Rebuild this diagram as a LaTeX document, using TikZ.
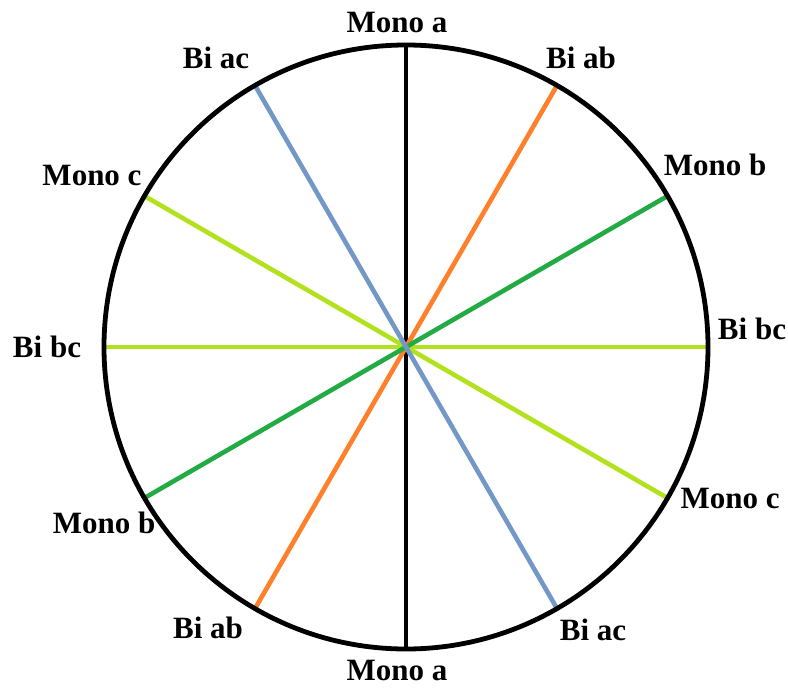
\documentclass[tikz,border=0pt]{standalone}
\usepackage{fontspec}
\setmainfont{Liberation Serif}
\definecolor{cblue}{HTML}{7397C6}
\definecolor{corange}{HTML}{FF7F2A}
\definecolor{cyg}{HTML}{B2E11E}
\definecolor{cgreen}{HTML}{22AA44}
\begin{document}
\begin{tikzpicture}[x=1pt,y=-1pt,
  lbl/.style={anchor=base,inner sep=0pt,font=\fontsize{31}{31}\selectfont\bfseries},
  spoke/.style={line width=4.6pt}]
\useasboundingbox (0,0) rectangle (788,688);
\begin{scope}[shift={(406,347)}]
\coordinate (O) at (0,0);
\foreach \a in {0,30,60,90,120,150,180,210,240,270,300,330}{
  \coordinate (p\a) at (-\a:302);
}
\end{scope}
\draw[spoke,black] (p90) -- (p270);
\draw[spoke,cyg] (p0) -- (p180);
\draw[spoke,cyg] (p150) -- (p330);
\draw[spoke,corange] (p60) -- (p240);
\draw[spoke,cgreen] (p30) -- (p210);
\draw[spoke,cblue] (p120) -- (p300);
\node[draw,circle,line width=4.8pt,minimum size=604pt,inner sep=0pt] (C) at (O) {};
\node[lbl] (la1) at (397,32) {Mono a};
\node[lbl] (la2) at (397,680) {Mono a};
\node[lbl] (lab1) at (581,68) {Bi ab};
\node[lbl] (lab2) at (208,638) {Bi ab};
\node[lbl] (lac1) at (216,68) {Bi ac};
\node[lbl] (lac2) at (593,640) {Bi ac};
\node[lbl] (lb1) at (715,175) {Mono b};
\node[lbl] (lb2) at (104,533) {Mono b};
\node[lbl] (lc1) at (92,185) {Mono c};
\node[lbl] (lc2) at (730,508) {Mono c};
\node[lbl] (lbc1) at (47,357) {Bi bc};
\node[lbl] (lbc2) at (752,339) {Bi bc};
\end{tikzpicture}
\end{document}
